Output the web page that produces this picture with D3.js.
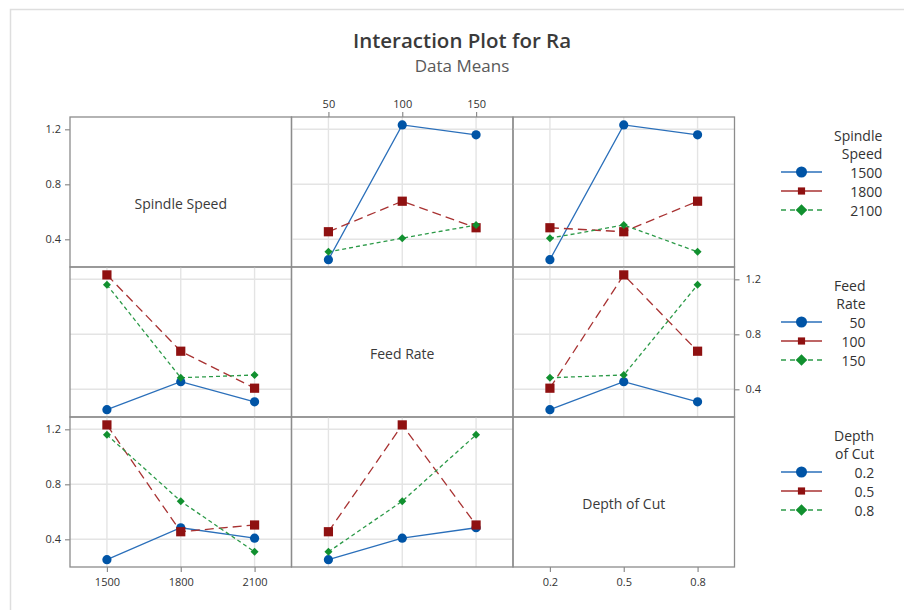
<!DOCTYPE html>
<html>
<head>
<meta charset="utf-8">
<script src="https://cdn.jsdelivr.net/npm/d3@7"></script>
<style>
  html, body { margin: 0; padding: 0; background: #fff; }
  svg { display: block; }
  text { font-family: "Open Sans", "Noto Sans", sans-serif; fill: #333; }
</style>
</head>
<body>
<svg id="chart" width="904" height="610"></svg>
<script>
// ---- data (Taguchi L9 runs, Ra) ----
const factorNames = ["Spindle Speed", "Feed Rate", "Depth of Cut"];
const legendTitles = [["Spindle", "Speed"], ["Feed", "Rate"], ["Depth", "of Cut"]];
const spindleLevels = [1500, 1800, 2100];
const feedLevels = [50, 100, 150];
const depthLevels = [0.2, 0.5, 0.8];
const spindleLabels = ["1500", "1800", "2100"];
const feedLabels = ["50", "100", "150"];
const depthLabels = ["0.2", "0.5", "0.8"];
const runSpindle = [1500, 1500, 1500, 1800, 1800, 1800, 2100, 2100, 2100];
const runFeed    = [50, 100, 150, 50, 100, 150, 50, 100, 150];
const runDepth   = [0.2, 0.5, 0.8, 0.5, 0.8, 0.2, 0.8, 0.2, 0.5];
const runRa      = [0.252, 1.232, 1.16, 0.455, 0.677, 0.484, 0.309, 0.408, 0.504];
const yTicks = [0.4, 0.8, 1.2];
const yTickLabels = ["0.4", "0.8", "1.2"];

// ---- layout ----
const svg = d3.select("#chart");
const colX = [70, 291.5, 513];
const colW = 221.5;
const rowY = [117, 267, 417];
const rowH = 150;

const levels = [spindleLevels, feedLevels, depthLevels];
const labels = [spindleLabels, feedLabels, depthLabels];
const runs = [runSpindle, runFeed, runDepth];
const pads = [150, 25, 0.15];

const colors = ["#0054a6", "#8f1111", "#11902f"];
const lineColors = ["#2a6fba", "#a83232", "#2c9a48"];
const dashes = [null, "9,5", "4,3"];

svg.append("rect").attr("x", 10.5).attr("y", 9.5).attr("width", 900).attr("height", 620)
  .attr("fill", "none").attr("stroke", "#dedede").attr("stroke-width", 1.5);

// title
svg.append("text").attr("x", 462).attr("y", 40).attr("text-anchor", "middle")
  .attr("dominant-baseline", "central").style("font-size", "20.5px").style("font-weight", 600)
  .style("fill", "#3a3a3a").text("Interaction Plot for Ra");
svg.append("text").attr("x", 462).attr("y", 65.5).attr("text-anchor", "middle")
  .attr("dominant-baseline", "central").style("font-size", "17px")
  .style("fill", "#595959").text("Data Means");

function xScale(j) {
  const lv = levels[j];
  return d3.scaleLinear().domain([lv[0] - pads[j], lv[2] + pads[j]]).range([colX[j], colX[j] + colW]);
}
function yScale(i) {
  return d3.scaleLinear().domain([0.1985, 1.2895]).range([rowY[i] + rowH, rowY[i]]);
}

function marker(g, k, x, y, size) {
  if (k === 0) {
    g.append("circle").attr("cx", x).attr("cy", y).attr("r", 4.6 * size).attr("fill", colors[0]);
  } else if (k === 1) {
    const s = 9.2 * size;
    g.append("rect").attr("x", x - s / 2).attr("y", y - s / 2).attr("width", s).attr("height", s)
      .attr("fill", colors[1]);
  } else {
    const s = 4.0 * size;
    g.append("path").attr("d", `M${x},${y - s}L${x + s},${y}L${x},${y + s}L${x - s},${y}Z`)
      .attr("fill", colors[2]);
  }
}

for (let i = 0; i < 3; i++) {
  for (let j = 0; j < 3; j++) {
    const g = svg.append("g");
    const x = xScale(j), y = yScale(i);
    if (i !== j) {
      // grid
      levels[j].forEach(v => g.append("line").attr("x1", x(v)).attr("x2", x(v))
        .attr("y1", rowY[i]).attr("y2", rowY[i] + rowH).attr("stroke", "#e4e4e4").attr("stroke-width", 1.4));
      yTicks.forEach(v => g.append("line").attr("x1", colX[j]).attr("x2", colX[j] + colW)
        .attr("y1", y(v)).attr("y2", y(v)).attr("stroke", "#e4e4e4").attr("stroke-width", 1.4));
      // means: x = factor j, groups = factor i
      levels[i].forEach((gv, k) => {
        const pts = levels[j].map(xv => {
          const vals = runRa.filter((r, n) => runs[i][n] === gv && runs[j][n] === xv);
          return [xv, d3.mean(vals)];
        });
        const line = d3.line().x(d => x(d[0])).y(d => y(d[1]));
        g.append("path").attr("d", line(pts)).attr("fill", "none")
          .attr("stroke", lineColors[k]).attr("stroke-width", 1.3)
          .attr("stroke-dasharray", dashes[k]);
        pts.forEach(d => marker(g, k, x(d[0]), y(d[1]), 1));
      });
    } else {
      g.append("text").attr("x", colX[j] + colW / 2).attr("y", rowY[i] + rowH / 2 + 11)
        .attr("text-anchor", "middle").attr("dominant-baseline", "central")
        .style("font-size", "14px").style("fill", "#3a3a3a").text(factorNames[i]);
    }
    g.append("rect").attr("x", colX[j]).attr("y", rowY[i]).attr("width", colW).attr("height", rowH)
      .attr("fill", "none").attr("stroke", "#8c8c8c").attr("stroke-width", 1.3);
  }
}

// axes
function styleAxis(sel) {
  sel.select(".domain").remove();
  sel.selectAll(".tick line").attr("stroke", "#8c8c8c").attr("stroke-width", 1.2);
  sel.selectAll(".tick text").style("font-size", "11px").style("fill", "#333");
}
// y axes: rows 0 and 2 on left, row 1 on right
[0, 2].forEach(i => {
  svg.append("g").attr("transform", `translate(${colX[0]},0)`)
    .call(d3.axisLeft(yScale(i)).tickValues(yTicks).tickFormat((d, n) => yTickLabels[n]).tickSize(5).tickPadding(4))
    .call(styleAxis);
});
svg.append("g").attr("transform", `translate(${colX[2] + colW},0)`)
  .call(d3.axisRight(yScale(1)).tickValues(yTicks).tickFormat((d, n) => yTickLabels[n]).tickSize(5).tickPadding(6))
  .call(styleAxis);
// x axes: col0 bottom, col1 top, col2 bottom
[0, 2].forEach(j => {
  svg.append("g").attr("transform", `translate(0,${rowY[2] + rowH})`)
    .call(d3.axisBottom(xScale(j)).tickValues(levels[j]).tickFormat((d, n) => labels[j][n]).tickSize(5).tickPadding(6))
    .call(styleAxis);
});
svg.append("g").attr("transform", `translate(0,${rowY[0]})`)
  .call(d3.axisTop(xScale(1)).tickValues(levels[1]).tickFormat((d, n) => labels[1][n]).tickSize(5).tickPadding(4))
  .call(styleAxis);

// legends
for (let i = 0; i < 3; i++) {
  const lg = svg.append("g");
  const top = rowY[i];
  const t1 = lg.append("text").attr("x", 834).attr("y", top + 18).attr("dominant-baseline", "central")
    .style("font-size", "14px").text(legendTitles[i][0]);
  const t2 = lg.append("text").attr("x", 834).attr("y", top + 36.5).attr("dominant-baseline", "central")
    .style("font-size", "14px").text(legendTitles[i][1]);
  const w = Math.max(t1.node().getComputedTextLength(), t2.node().getComputedTextLength());
  const right = 834 + w;
  t1.attr("x", right).attr("text-anchor", "end");
  t2.attr("x", right).attr("text-anchor", "end");
  levels[i].forEach((v, k) => {
    const yy = top + 55 + k * 19;
    lg.append("line").attr("x1", 781).attr("x2", 822).attr("y1", yy).attr("y2", yy)
      .attr("stroke", lineColors[k]).attr("stroke-width", 1.3)
      .attr("stroke-dasharray", k === 2 ? "5,4" : null);
    marker(lg, k, 801.5, yy, k === 0 ? 1.2 : (k === 1 ? 0.78 : 1.45));
    lg.append("text").attr("x", right).attr("y", yy).attr("text-anchor", "end")
      .attr("dominant-baseline", "central").style("font-size", "14px").text(labels[i][k]);
  });
}
</script>
</body>
</html>
